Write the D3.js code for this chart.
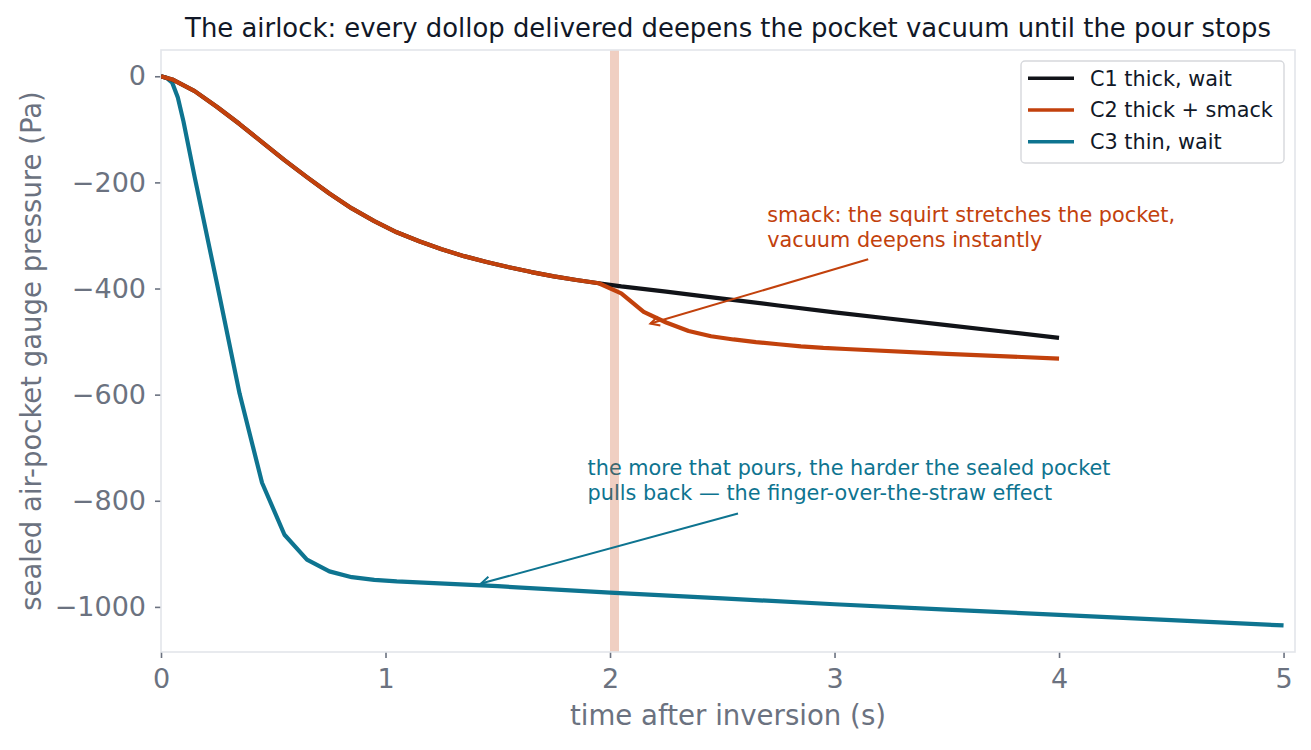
<!DOCTYPE html>
<html>
<head>
<meta charset="utf-8">
<script src="https://cdn.jsdelivr.net/npm/d3@7"></script>
<style>
  html, body { margin: 0; padding: 0; background: #ffffff; }
  svg { display: block; font-family: "DejaVu Sans", sans-serif; }
</style>
</head>
<body>
<svg id="chart" width="1311" height="750"></svg>
<script>
// ---------------- data ----------------
const titleText = "The airlock: every dollop delivered deepens the pocket vacuum until the pour stops";
const xLabelText = "time after inversion (s)";
const yLabelText = "sealed air-pocket gauge pressure (Pa)";

const xTicks = [0, 1, 2, 3, 4, 5];
const yTicks = [0, -200, -400, -600, -800, -1000];

const seriesNames = ["C1 thick, wait", "C2 thick + smack", "C3 thin, wait"];
const seriesColors = ["#111318", "#c2410c", "#0e7490"];

const c1Time = [0, 0.05, 0.15, 0.25, 0.35, 0.45, 0.55, 0.65, 0.75, 0.85, 0.95, 1.05, 1.15, 1.25, 1.35, 1.45, 1.55, 1.65, 1.75, 1.85, 1.95,
                2.05, 2.25, 2.5, 2.75, 3.0, 3.25, 3.5, 3.75, 4.0];
const c1Pressure = [0, -6, -28, -58, -90, -124, -158, -190, -221, -249, -273, -294, -311, -326, -339, -350, -360, -369, -377, -384, -390,
                    -396, -406, -419, -432, -445, -457, -469, -481, -493];

const c2Time = [0, 0.05, 0.15, 0.25, 0.35, 0.45, 0.55, 0.65, 0.75, 0.85, 0.95, 1.05, 1.15, 1.25, 1.35, 1.45, 1.55, 1.65, 1.75, 1.85, 1.95,
                2.05, 2.15, 2.25, 2.35, 2.45, 2.55, 2.65, 2.75, 2.85, 2.95, 3.05, 3.5, 4.0];
const c2Pressure = [0, -6, -28, -58, -90, -124, -158, -190, -221, -249, -273, -294, -311, -326, -339, -350, -360, -369, -377, -384, -390,
                    -409, -444, -464, -480, -490, -496, -501, -505, -509, -512, -514, -523, -532];

const c3Time = [0, 0.025, 0.05, 0.075, 0.1, 0.15, 0.25, 0.35, 0.45, 0.55, 0.65, 0.75, 0.85, 0.95, 1.05, 1.5, 2.0, 2.5, 3.0, 3.5, 4.0, 4.5, 5.0];
const c3Pressure = [0, -3, -12, -40, -85, -190, -392, -598, -766, -864, -911, -933, -944, -949, -952, -961, -973, -984, -995, -1005, -1015, -1025, -1035];

// shaded smack moment
const smackSpan = [2.0, 2.04];

// annotations: text anchor (data), arrow start (data), arrow target (data)
const annoLines = [
  ["smack: the squirt stretches the pocket,", "vacuum deepens instantly"],
  ["the more that pours, the harder the sealed pocket", "pulls back \u2014 the finger-over-the-straw effect"]
];
const annoTextPos = [[2.7, -275], [1.9, -752]];
const annoArrowFrom = [[3.15, -345], [2.57, -824]];
const annoArrowTo = [[2.18, -466], [1.425, -956]];
const annoColors = ["#c2410c", "#0e7490"];

// ---------------- layout ----------------
const svg = d3.select("#chart");
const plot = { left: 161, right: 1295, top: 50, bottom: 652 };

const x = d3.scaleLinear().domain([0, 5.051]).range([plot.left, plot.right]);
const y = d3.scaleLinear().domain([-1085, 49.5]).range([plot.bottom, plot.top]);

const tickColor = "#6b7280";
const spineColor = "#e3e5ea";

// clip
svg.append("defs").append("clipPath").attr("id", "clip")
  .append("rect")
  .attr("x", plot.left).attr("y", plot.top)
  .attr("width", plot.right - plot.left).attr("height", plot.bottom - plot.top);

// axes
const xAxis = d3.axisBottom(x).tickValues(xTicks).tickSize(6).tickPadding(11).tickFormat(d3.format("d"));
const yAxis = d3.axisLeft(y).tickValues(yTicks).tickSize(6).tickPadding(9)
  .tickFormat(d => d < 0 ? "\u2212" + Math.abs(d) : String(d));

const gx = svg.append("g").attr("transform", `translate(0,${plot.bottom})`).call(xAxis);
const gy = svg.append("g").attr("transform", `translate(${plot.left},0)`).call(yAxis);
[gx, gy].forEach(g => {
  g.select(".domain").remove();
  g.selectAll(".tick line").attr("stroke", tickColor).attr("stroke-width", 1.6);
  g.selectAll(".tick text").attr("fill", tickColor).style("font-size", "27px")
    .style("font-family", "'DejaVu Sans', sans-serif");
});
gx.selectAll(".tick text").attr("dy", "0.71em");

// annotation texts (beneath the band)
annoLines.forEach((lines, i) => {
  const t = svg.append("text")
    .attr("x", x(annoTextPos[i][0]))
    .attr("y", y(annoTextPos[i][1]))
    .attr("fill", annoColors[i])
    .style("font-size", "20.8px");
  lines.forEach((ln, j) => {
    t.append("tspan").attr("x", x(annoTextPos[i][0])).attr("dy", j === 0 ? 0 : 25).text(ln);
  });
});

// shaded band
svg.append("rect")
  .attr("x", x(smackSpan[0]))
  .attr("y", plot.top)
  .attr("width", x(smackSpan[1]) - x(smackSpan[0]))
  .attr("height", plot.bottom - plot.top)
  .attr("fill", "#c2410c")
  .attr("fill-opacity", 0.25);

// spines
svg.append("rect")
  .attr("x", plot.left).attr("y", plot.top)
  .attr("width", plot.right - plot.left).attr("height", plot.bottom - plot.top)
  .attr("fill", "none").attr("stroke", spineColor).attr("stroke-width", 1.6);

// lines
const seriesData = [
  c1Time.map((t, i) => [t, c1Pressure[i]]),
  c2Time.map((t, i) => [t, c2Pressure[i]]),
  c3Time.map((t, i) => [t, c3Pressure[i]])
];
const line = d3.line().x(d => x(d[0])).y(d => y(d[1]));
const lineOrder = [2, 0, 1];
lineOrder.forEach(i => {
  svg.append("path")
    .attr("clip-path", "url(#clip)")
    .attr("d", line(seriesData[i]))
    .attr("fill", "none")
    .attr("stroke", seriesColors[i])
    .attr("stroke-width", 4.2)
    .attr("stroke-linejoin", "round")
    .attr("stroke-linecap", "butt");
});

// annotation arrows
annoArrowFrom.forEach((from, i) => {
  const x0 = x(from[0]), y0 = y(from[1]);
  const x1 = x(annoArrowTo[i][0]), y1 = y(annoArrowTo[i][1]);
  svg.append("line")
    .attr("x1", x0).attr("y1", y0).attr("x2", x1).attr("y2", y1)
    .attr("stroke", annoColors[i]).attr("stroke-width", 2);
  const ang = Math.atan2(y1 - y0, x1 - x0);
  const hl = 9, hw = 4.6;
  const bx = x1 - hl * Math.cos(ang), by = y1 - hl * Math.sin(ang);
  const px = -Math.sin(ang) * hw, py = Math.cos(ang) * hw;
  svg.append("path")
    .attr("d", `M${bx + px},${by + py}L${x1},${y1}L${bx - px},${by - py}`)
    .attr("fill", "none").attr("stroke", annoColors[i]).attr("stroke-width", 2)
    .attr("stroke-linejoin", "miter");
});

// title
svg.append("text")
  .attr("x", (plot.left + plot.right) / 2).attr("y", 37)
  .attr("text-anchor", "middle")
  .attr("fill", "#111827")
  .style("font-size", "25.9px")
  .text(titleText);

// axis labels
svg.append("text")
  .attr("x", (plot.left + plot.right) / 2).attr("y", 725)
  .attr("text-anchor", "middle")
  .attr("fill", tickColor)
  .style("font-size", "27.6px")
  .text(xLabelText);

svg.append("text")
  .attr("transform", `translate(41,${(plot.top + plot.bottom) / 2}) rotate(-90)`)
  .attr("text-anchor", "middle")
  .attr("fill", tickColor)
  .style("font-size", "27.5px")
  .text(yLabelText);

// legend
const leg = svg.append("g");
leg.append("rect")
  .attr("x", 1021).attr("y", 61).attr("width", 263).attr("height", 102)
  .attr("rx", 4).attr("ry", 4)
  .attr("fill", "#ffffff").attr("fill-opacity", 0.85)
  .attr("stroke", "#d6d8dc").attr("stroke-width", 1.4);
seriesNames.forEach((name, i) => {
  const cy = 78.3 + i * 31.7;
  leg.append("line")
    .attr("x1", 1028).attr("x2", 1074).attr("y1", cy).attr("y2", cy)
    .attr("stroke", seriesColors[i]).attr("stroke-width", 3.6);
  leg.append("text")
    .attr("x", 1090).attr("y", cy).attr("dy", "0.36em")
    .attr("fill", "#111827")
    .style("font-size", "20.8px")
    .text(name);
});
</script>
</body>
</html>
